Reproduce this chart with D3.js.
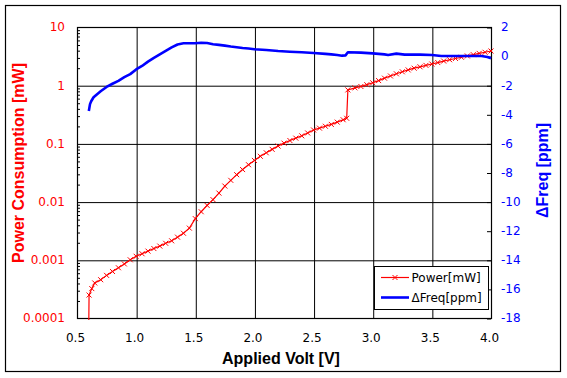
<!DOCTYPE html>
<html><head><meta charset="utf-8">
<script src="https://cdn.jsdelivr.net/npm/d3@7"></script>
<style>body{margin:0;background:#fff} svg{display:block}</style>
</head><body><svg id="c" width="567" height="378"></svg>
<script>
// ---- data ----
const powerVolts = [0.600,0.602,0.625,0.65,0.70,0.75,0.80,0.85,0.90,0.95,1.00,1.05,1.10,1.15,1.20,1.25,1.30,1.35,1.40,1.45,1.50,1.55,1.60,1.65,1.70,1.75,1.80,1.85,1.90,1.95,2.00,2.05,2.10,2.15,2.20,2.25,2.30,2.35,2.40,2.45,2.50,2.55,2.60,2.65,2.70,2.75,2.78,2.79,2.85,2.90,2.95,3.00,3.05,3.10,3.15,3.20,3.25,3.30,3.35,3.40,3.45,3.50,3.55,3.60,3.65,3.70,3.75,3.80,3.85,3.90,3.95,4.00];
const powerMW = [0.000092,0.000248,0.00032,0.00040,0.000455,0.00054,0.00063,0.00073,0.00085,0.0010,0.00115,0.00127,0.00141,0.00156,0.00172,0.00192,0.00212,0.00245,0.00286,0.0035,0.0051,0.0067,0.0086,0.0108,0.0140,0.0185,0.0232,0.0290,0.0355,0.0430,0.0510,0.0600,0.0690,0.0790,0.0900,0.101,0.112,0.123,0.135,0.151,0.170,0.183,0.197,0.212,0.232,0.255,0.27,0.83,0.90,0.95,1.02,1.10,1.20,1.32,1.44,1.57,1.70,1.83,1.96,2.07,2.19,2.31,2.45,2.60,2.74,2.88,3.02,3.18,3.35,3.52,3.68,3.87];
const freqVolts = [0.600,0.610,0.620,0.640,0.670,0.700,0.750,0.800,0.850,0.900,0.950,1.000,1.050,1.100,1.150,1.200,1.250,1.300,1.350,1.400,1.450,1.500,1.550,1.600,1.650,1.700,1.750,1.800,1.850,1.900,1.950,2.000,2.100,2.200,2.300,2.400,2.500,2.600,2.650,2.700,2.740,2.770,2.790,2.900,3.000,3.100,3.130,3.200,3.270,3.400,3.500,3.580,3.700,3.800,3.920,3.970,4.000];
const freqPpm = [-3.77,-3.30,-3.10,-2.83,-2.62,-2.42,-2.12,-1.90,-1.70,-1.45,-1.24,-0.92,-0.68,-0.38,-0.12,0.12,0.36,0.60,0.80,0.88,0.88,0.88,0.92,0.90,0.82,0.77,0.72,0.66,0.61,0.56,0.52,0.47,0.42,0.35,0.30,0.26,0.21,0.15,0.12,0.08,0.03,0.05,0.26,0.24,0.19,0.12,0.08,0.17,0.10,0.10,0.08,0.01,0.01,0.01,0.01,-0.06,-0.15];

const xTicks = [0.5,1.0,1.5,2.0,2.5,3.0,3.5,4.0];
const xTickLabels = ["0.5","1.0","1.5","2.0","2.5","3.0","3.5","4.0"];
const powerTicks = [0.0001,0.001,0.01,0.1,1,10];
const powerTickLabels = ["0.0001","0.001","0.01","0.1","1","10"];
const freqTicks = [2,0,-2,-4,-6,-8,-10,-12,-14,-16,-18];
const freqTickLabels = ["2","0","-2","-4","-6","-8","-10","-12","-14","-16","-18"];
const legendLabels = ["Power[mW]","\u0394Freq[ppm]"];

// ---- layout ----
const L = 77, R = 491, T = 27, B = 318;
const svg = d3.select("#c");
const x = d3.scaleLinear().domain([0.5,4.0]).range([L,R]);
const yP = d3.scaleLog().domain([0.0001,10]).range([B,T]);
const yF = d3.scaleLinear().domain([-18,2]).range([B,T]);
const RED = "#ff0000", BLUE = "#0000ff";
const tickFont = "'DejaVu Sans', Verdana, sans-serif";
const titleFont = "'Liberation Sans', Arial, sans-serif";

svg.append("rect").attr("x",0).attr("y",0).attr("width",567).attr("height",378).attr("fill","#fff");
svg.append("rect").attr("x",5.5).attr("y",5.5).attr("width",555).attr("height",366)
  .attr("fill","none").attr("stroke","#000").attr("stroke-width",1.2);

// gridlines
const gx = svg.append("g").attr("transform",`translate(0.5,${B})`)
  .call(d3.axisBottom(x).tickValues(xTicks.slice(1,-1)).tickSize(-(B-T)).tickFormat(""));
const gy = svg.append("g").attr("transform",`translate(${L},0.5)`)
  .call(d3.axisLeft(yP).tickValues(powerTicks.slice(1,-1)).tickSize(-(R-L)).tickFormat(""));
[gx,gy].forEach(g=>{g.select(".domain").remove(); g.selectAll("line").attr("stroke","#000").attr("stroke-width",1);});

// minor ticks on left (inward)
const minor = [];
for (let e=-4;e<1;e++) for (let m=2;m<=9;m++) minor.push(m*Math.pow(10,e));
const gm = svg.append("g").attr("transform",`translate(${L},0.5)`)
  .call(d3.axisRight(yP).tickValues(minor).tickSize(3).tickFormat(""));
gm.select(".domain").remove(); gm.selectAll("line").attr("stroke","#000");
// right inward ticks
const gr = svg.append("g").attr("transform",`translate(${R},0.5)`)
  .call(d3.axisLeft(yF).tickValues(freqTicks).tickSize(4).tickFormat(""));
gr.select(".domain").remove(); gr.selectAll("line").attr("stroke","#000");

// tick labels
const ax = svg.append("g").attr("transform",`translate(-2,${B})`)
  .call(d3.axisBottom(x).tickValues(xTicks).tickSize(0).tickPadding(15).tickFormat((d,i)=>xTickLabels[i]));
const ayl = svg.append("g").attr("transform",`translate(${L},0)`)
  .call(d3.axisLeft(yP).tickValues(powerTicks).tickSize(0).tickPadding(12).tickFormat((d,i)=>powerTickLabels[i]));
const ayr = svg.append("g").attr("transform",`translate(${R},0)`)
  .call(d3.axisRight(yF).tickValues(freqTicks).tickSize(0).tickPadding(10).tickFormat((d,i)=>freqTickLabels[i]));
[ax,ayl,ayr].forEach(g=>{g.select(".domain").remove(); g.selectAll("text").attr("font-family",tickFont).attr("font-size",12);});
ax.selectAll("text").attr("fill","#000");
ayl.selectAll("text").attr("fill",RED);
ayr.selectAll("text").attr("fill",BLUE);

// plot frame
svg.append("rect").attr("x",L+0.5).attr("y",T+0.5).attr("width",R-L).attr("height",B-T)
  .attr("fill","none").attr("stroke","#000").attr("stroke-width",1.2);

// power series
const powerData = powerVolts.map((v,i)=>({v, p: powerMW[i]}));
svg.append("path").datum(powerData)
  .attr("d", d3.line().x(d=>x(d.v)).y(d=>yP(d.p)))
  .attr("fill","none").attr("stroke",RED).attr("stroke-width",1.2);
const xMark = "M-2.5,-2.5L2.5,2.5M-2.5,2.5L2.5,-2.5";
svg.append("g").selectAll("path").data(powerData.filter(d=>d.p>=0.0001))
  .join("path").attr("d",xMark)
  .attr("transform",d=>`translate(${x(d.v)},${yP(d.p)})`)
  .attr("fill","none").attr("stroke",RED).attr("stroke-width",1);

// freq series
const freqData = freqVolts.map((v,i)=>({v, f: freqPpm[i]}));
svg.append("path").datum(freqData)
  .attr("d", d3.line().x(d=>x(d.v)).y(d=>yF(d.f)))
  .attr("fill","none").attr("stroke",BLUE).attr("stroke-width",2.6).attr("stroke-linejoin","round");

// titles
svg.append("text").attr("x",281).attr("y",363.5).attr("text-anchor","middle")
  .attr("font-family",titleFont).attr("font-weight","bold").attr("font-size",16).attr("fill","#000")
  .text("Applied Volt [V]");
svg.append("text").attr("transform","translate(23.5,163) rotate(-90)").attr("text-anchor","middle")
  .attr("font-family",titleFont).attr("font-weight","bold").attr("font-size",16).attr("fill",RED)
  .text("Power Consumption [mW]");
svg.append("text").attr("transform","translate(547.5,170.5) rotate(-90)").attr("text-anchor","middle")
  .attr("font-family",titleFont).attr("font-weight","bold").attr("font-size",16).attr("fill",BLUE)
  .text("\u0394Freq [ppm]");

// legend
const lg = svg.append("g");
lg.append("rect").attr("x",374.5).attr("y",266.5).attr("width",114).attr("height",43)
  .attr("fill","#fff").attr("stroke","#000").attr("stroke-width",1);
lg.append("line").attr("x1",381).attr("x2",409).attr("y1",277.5).attr("y2",277.5).attr("stroke",RED).attr("stroke-width",1.2);
lg.append("path").attr("d",xMark).attr("transform","translate(395,277.5)").attr("stroke",RED).attr("fill","none");
lg.append("line").attr("x1",381).attr("x2",409).attr("y1",297.5).attr("y2",297.5).attr("stroke",BLUE).attr("stroke-width",2.6);
lg.selectAll("text.l").data(legendLabels).join("text").attr("class","l")
  .attr("x",411.5).attr("y",(d,i)=>282+i*20)
  .attr("font-family",tickFont).attr("font-size",12).attr("fill","#000").text(d=>d);
</script></body></html>
